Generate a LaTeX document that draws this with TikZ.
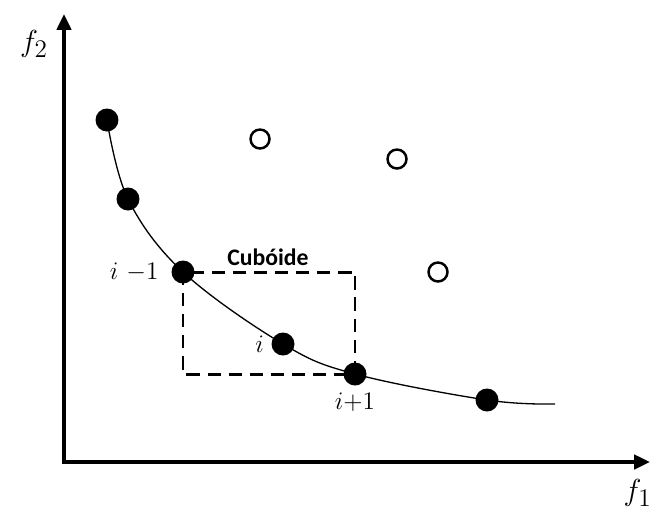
\documentclass[tikz,border=0pt]{standalone}
\usepackage{fontspec}
\newfontfamily\boxfont{Carlito}
\usetikzlibrary{arrows.meta, positioning}
\tikzset{
    axis/.style={line width=2.2pt, {Triangle[length=9pt, width=8pt]}-{Triangle[length=9pt, width=8pt]}},
    front/.style={circle, fill=black, inner sep=0pt, minimum size=0.46cm},
    other/.style={circle, draw=black, fill=white, line width=1.4pt, inner sep=0pt, minimum size=0.38cm},
    curve/.style={line width=0.75pt},
    cuboid/.style={line width=1.7pt, dash pattern=on 7.5pt off 4.5pt},
    axlabel/.style={font=\fontsize{19}{22}\selectfont, inner sep=0pt},
    ptlabel/.style={font=\fontsize{14}{16}\selectfont, inner sep=0pt}
}

\begin{document}
\begin{tikzpicture}[x=0.02cm, y=-0.02cm]
    \useasboundingbox (0,0) rectangle (659,511);

    % axes
    \coordinate (origin) at (64,462);
    \coordinate (ytip) at (64,14);
    \coordinate (xtip) at (650,462);
    \draw [axis] (ytip) -- (origin) -- (xtip);
    \node (ftwo) [axlabel] at (34,44) {$f_2$};
    \node (fone) [axlabel, anchor=east] at (652,493) {$f_1$};

    % pareto front points
    \coordinate (p1) at (107,120);
    \coordinate (p2) at (128,199);
    \coordinate (p3) at (183,272);
    \coordinate (p4) at (283,344);
    \coordinate (p5) at (355,374);
    \coordinate (p6) at (487,400);
    \coordinate (cend) at (555,404);

    \draw [curve] plot [smooth, tension=0.6] coordinates {(p1) (p2) (p3) (p4) (p5) (p6) (cend)};
    \draw [cuboid] (p3) rectangle (p5);

    \foreach \p in {p1, p2, p3, p4, p5, p6}
        \node (dot\p) [front] at (\p) {};

    % dominated points
    \node (q1) [other] at (260,139) {};
    \node (q2) [other] at (397,159) {};
    \node (q3) [other] at (438,272) {};

    % labels
    \node (cub) [font=\boxfont\bfseries\fontsize{13.5}{15}\selectfont] at (268,257) {Cubóide};
    \node (lbprev) [ptlabel, left=7pt of dotp3] {$i\ {-1}$};
    \node (lbcur) [ptlabel, left=4pt of dotp4] {$i$};
    \node (lbnext) [ptlabel, below=4pt of dotp5] {$i{+}1$};
\end{tikzpicture}
\end{document}
